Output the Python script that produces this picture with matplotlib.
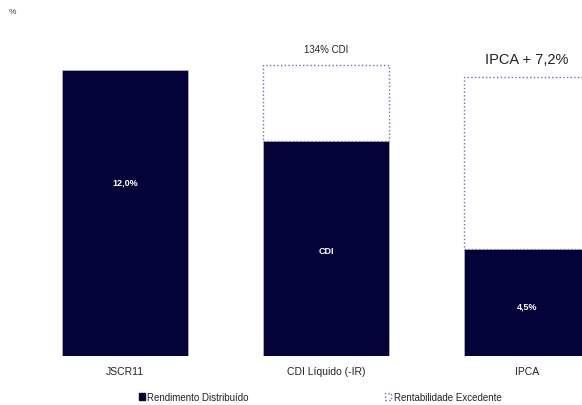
import matplotlib
matplotlib.use("Agg")
from matplotlib import pyplot as plt
from matplotlib.patches import Patch

plt.rcParams['font.family'] = ['Liberation Sans', 'DejaVu Sans']

categories = ['JSCR11', 'CDI Líquido (-IR)', 'IPCA']
distributed = [12.0, 9.0, 4.5]
excess = [0.0, 3.2, 7.2]
inner_labels = ['12,0%', 'CDI', '4,5%']
top_labels = ['', '134% CDI', 'IPCA + 7,2%']
legend_labels = ['Rendimento Distribuído', 'Rentabilidade Excedente']

NAVY = '#03033a'
DOT = '#6a76a0'

fig = plt.figure(figsize=(5.82, 4.06), dpi=100)
ax = fig.add_axes([0, 0.1207, 1, 0.7808])

x = list(range(len(categories)))
width = 0.627
ax.bar(x, distributed, width=width, color=NAVY, edgecolor='#c8c8d0', linewidth=0.4, zorder=2)
# excess part only where there is one (dotted outline, white fill)
for xi, h, e in zip(x, distributed, excess):
    if e > 0:
        ax.bar(xi, e, width=width, bottom=h, color='white',
               edgecolor=DOT, linestyle=':', linewidth=1.0, zorder=1)

# white labels inside the dark bars
label_frac = [0.61, 0.49, 0.47]
for xi, h, lab, f in zip(x, distributed, inner_labels, label_frac):
    ax.text(xi, h * f, lab, color='white', ha='center', va='center',
            fontsize=6.5, fontweight='bold')

# labels above the stacked bars
top_sizes = [8, 7, 10.5]
for xi, h, e, lab, fs in zip(x, distributed, excess, top_labels, top_sizes):
    if lab:
        ax.annotate(lab, xy=(xi, h + e), xytext=(0, 8), textcoords='offset points',
                    ha='center', va='bottom', fontsize=fs, color='#222222')

ax.set_xlim(-0.622, 2.274)
ax.set_ylim(0, 13.3)
ax.set_xticks(x)
ax.set_xticklabels(categories, fontsize=7.5, color='#222222')
ax.tick_params(axis='x', length=0, pad=7)
ax.set_yticks([])
for s in ax.spines.values():
    s.set_visible(False)

fig.text(0.022, 0.968, '%', fontsize=6, color='#444444', ha='center', va='center')

handles = [Patch(facecolor=NAVY, edgecolor=NAVY),
           Patch(facecolor='white', edgecolor=DOT, linestyle=':')]
fig.legend(handles, legend_labels, loc='center', bbox_to_anchor=(0.55, 0.02), ncol=2,
           frameon=False, fontsize=7, handlelength=0.6, handleheight=0.6,
           handletextpad=0.3, columnspacing=14, labelcolor='#222222')

fig.savefig('out.png', dpi=100)
